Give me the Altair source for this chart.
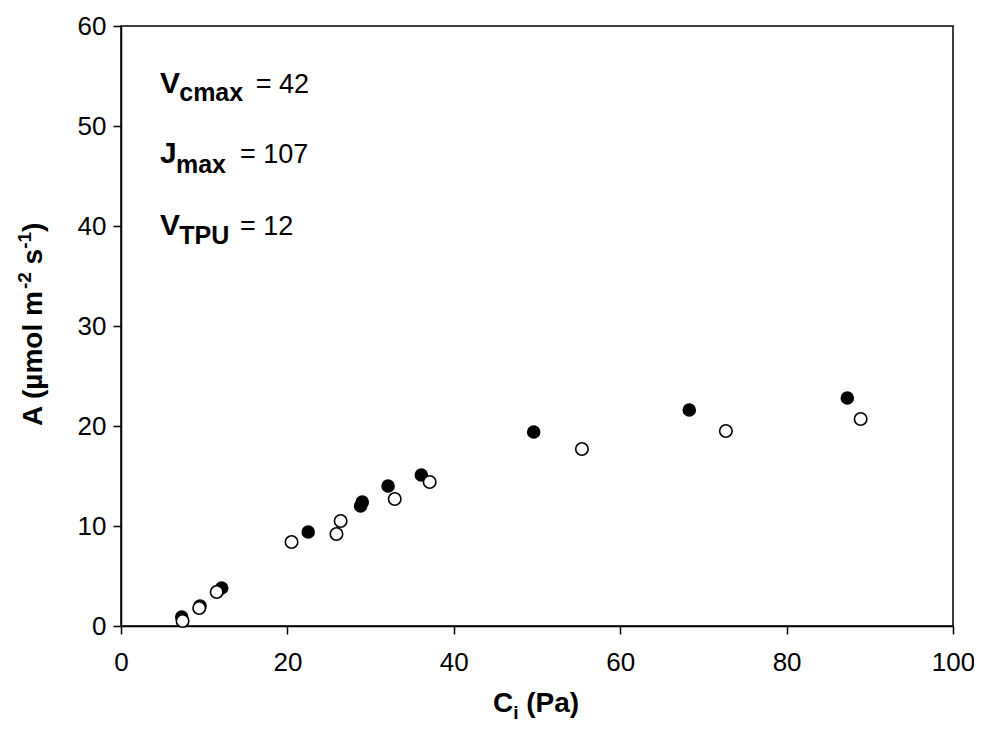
import altair as alt
import pandas as pd

FONT = "Liberation Sans, Arial, sans-serif"

filled_ci = [7.3, 9.5, 12.1, 22.5, 28.8, 29.0, 32.1, 36.1, 49.6, 68.3, 87.3]
filled_a = [0.9, 2.0, 3.8, 9.4, 12.0, 12.4, 14.0, 15.1, 19.4, 21.6, 22.8]
open_ci = [7.4, 9.4, 11.5, 20.5, 25.9, 26.4, 32.9, 37.1, 55.4, 72.7, 88.9]
open_a = [0.5, 1.8, 3.4, 8.4, 9.2, 10.5, 12.7, 14.4, 17.7, 19.5, 20.7]

x_ticks = [0, 20, 40, 60, 80, 100]
y_ticks = [0, 10, 20, 30, 40, 50, 60]

# Annotation text pieces (in data coordinates)
ann_bold_text = ["V", "cmax", "J", "max", "V", "TPU"]
ann_bold_x = [4.7, 7.0, 4.7, 6.6, 4.7, 7.0]
ann_bold_y = [53.3, 52.5, 46.3, 45.3, 39.1, 38.2]
ann_bold_size = [30, 25, 30, 25, 30, 25]
ann_reg_text = ["= 42", "= 107", "= 12"]
ann_reg_x = [16.2, 14.3, 14.3]
ann_reg_y = [53.3, 46.3, 39.1]

filled_df = pd.DataFrame({"ci": filled_ci, "a": filled_a})
open_df = pd.DataFrame({"ci": open_ci, "a": open_a})
bold_df = pd.DataFrame({"t": ann_bold_text, "x": ann_bold_x, "y": ann_bold_y, "s": ann_bold_size})
reg_df = pd.DataFrame({"t": ann_reg_text, "x": ann_reg_x, "y": ann_reg_y})

xscale = alt.Scale(domain=[0, 100], nice=False, zero=False)
yscale = alt.Scale(domain=[0, 60], nice=False, zero=False)

axis_common = dict(
    title=None, grid=False, domainColor="black", domainWidth=1.5,
    tickColor="black", tickWidth=1.5, tickSize=8,
    labelFont=FONT, labelFontSize=26, labelColor="black",
    labelFlush=False, labelOverlap=False, labelBound=False,
    format="d",
)

x_enc = alt.X("ci:Q", scale=xscale, axis=alt.Axis(values=x_ticks, labelPadding=15, **axis_common))
y_enc = alt.Y("a:Q", scale=yscale, axis=alt.Axis(values=y_ticks, labelPadding=7, **axis_common))

filled = alt.Chart(filled_df).mark_point(
    shape="circle", filled=True, color="black", size=185, opacity=1
).encode(x=x_enc, y=y_enc)

opened = alt.Chart(open_df).mark_point(
    shape="circle", filled=True, fill="white", stroke="black", strokeWidth=1.6, size=155, opacity=1
).encode(x=x_enc, y=y_enc)

ann_bold = alt.Chart(bold_df).mark_text(
    align="left", baseline="alphabetic", font=FONT, fontWeight="bold", color="black"
).encode(
    x=alt.X("x:Q", scale=xscale), y=alt.Y("y:Q", scale=yscale),
    text="t:N", size=alt.Size("s:Q", scale=None, legend=None),
)

ann_reg = alt.Chart(reg_df).mark_text(
    align="left", baseline="alphabetic", font=FONT, fontSize=27, color="black"
).encode(x=alt.X("x:Q", scale=xscale), y=alt.Y("y:Q", scale=yscale), text="t:N")


def piece(text, x, y, size, angle=0):
    return alt.Chart(alt.Data(values=[{"t": text}])).mark_text(
        align="left", baseline="alphabetic", font=FONT, fontWeight="bold",
        fontSize=size, angle=angle, color="black",
    ).encode(x=alt.value(x), y=alt.value(y), text="t:N")


# y-axis title pieces (rotated), x-axis title pieces
MAIN = 28
SUP = 19
SPACE = 0.278 * MAIN
ybase = -79
ysup = -90
y0 = 400
w1 = 4.889 * MAIN
w2 = 0.889 * SUP
w3 = 0.556 * MAIN
p2 = y0 - w1
p3 = p2 - w2 - SPACE
p4 = p3 - w3
p5 = p4 - w2
title_parts = [
    piece("A (µmol m", ybase, y0, MAIN, 270),
    piece("-2", ysup, p2, SUP, 270),
    piece("s", ybase, p3, MAIN, 270),
    piece("-1", ysup, p4, SUP, 270),
    piece(")", ybase, p5, MAIN, 270),
]
xs = 372
title_parts += [
    piece("C", xs, 686, MAIN),
    piece("i", xs + 0.722 * MAIN, 693, SUP),
    piece("(Pa)", xs + 0.722 * MAIN + 0.278 * SUP + SPACE, 686, MAIN),
]

chart = alt.layer(filled, opened, ann_bold, ann_reg, *title_parts).properties(
    width=832, height=600,
    padding={"left": 113, "top": 18, "right": 21, "bottom": 104},
    autosize=alt.AutoSizeParams(type="none"),
).configure(
    background="white",
    view=alt.ViewConfig(stroke="black", strokeWidth=1.5),
)

chart.save("out.html", embed_options={"renderer": "svg", "actions": False})
